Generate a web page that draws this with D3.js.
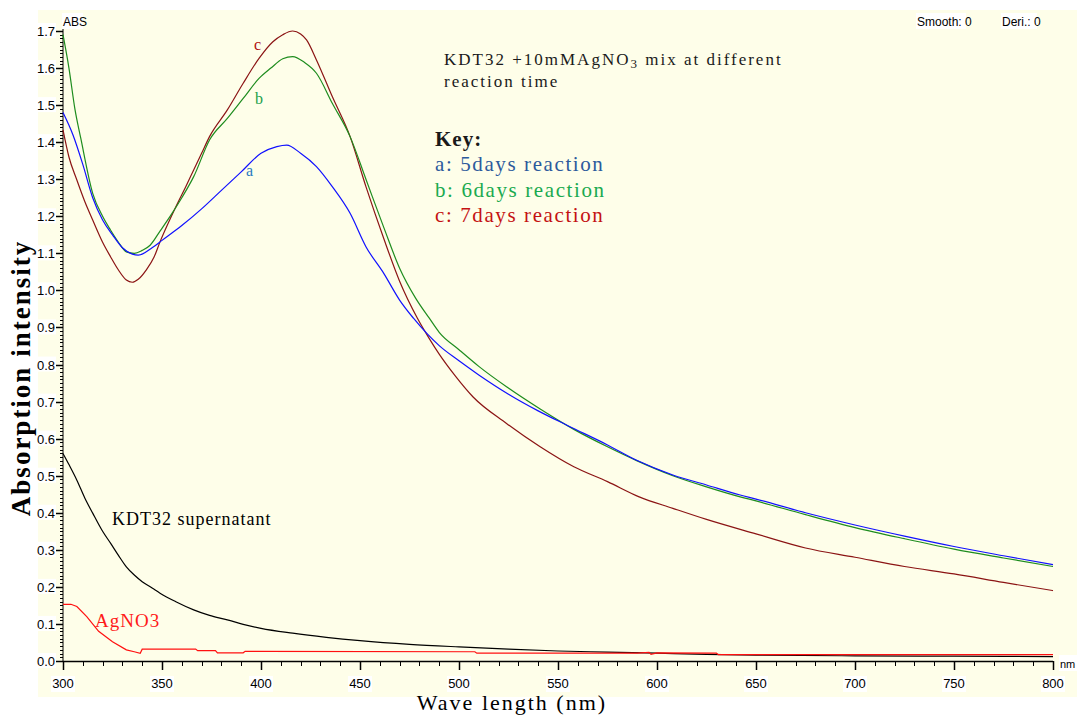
<!DOCTYPE html>
<html>
<head>
<meta charset="utf-8">
<script src="https://cdn.jsdelivr.net/npm/d3@7"></script>
<style>
	body { margin: 0; background: #ffffff; }
	svg { display: block; }
	.tick-label { font-family: "Liberation Sans Narrow", "Liberation Sans", Arial, sans-serif; font-size: 13px; fill: #000; }
	.serif { font-family: "Liberation Serif", "Times New Roman", serif; }
</style>
</head>
<body>
<svg id="chart" width="1077" height="716"></svg>
<script>
// Wavelength (nm) / absorbance pairs
const waveA = [300, 305, 310, 315, 320, 325, 330, 335, 338, 345, 350, 360, 370, 380, 390, 400, 408, 413, 420, 428, 436, 445, 453, 462, 470, 477, 490, 500, 510, 525, 540, 555, 575, 590, 608, 625, 642, 650, 675, 700, 725, 750, 775, 800];
const absA = [1.48, 1.42, 1.34, 1.25, 1.19, 1.15, 1.115, 1.098, 1.095, 1.115, 1.135, 1.175, 1.22, 1.27, 1.32, 1.37, 1.388, 1.392, 1.37, 1.334, 1.28, 1.208, 1.118, 1.046, 0.974, 0.925, 0.851, 0.81, 0.772, 0.72, 0.675, 0.635, 0.583, 0.541, 0.502, 0.475, 0.448, 0.437, 0.40, 0.367, 0.337, 0.309, 0.284, 0.26];

const waveB = [300, 303, 306, 309, 315, 320, 324, 328, 332, 336, 340, 344, 349, 354, 360, 366, 374, 383, 391, 399, 405, 411, 416, 422, 428, 436, 445, 453, 462, 470, 478, 485, 490, 500, 510, 524, 541, 558, 575, 590, 608, 625, 642, 650, 675, 700, 725, 750, 775, 800];
const absB = [1.69, 1.60, 1.49, 1.41, 1.262, 1.20, 1.163, 1.13, 1.104, 1.10, 1.108, 1.122, 1.16, 1.199, 1.25, 1.307, 1.406, 1.464, 1.518, 1.572, 1.60, 1.625, 1.631, 1.615, 1.586, 1.505, 1.415, 1.30, 1.17, 1.06, 0.98, 0.925, 0.887, 0.84, 0.795, 0.74, 0.68, 0.625, 0.578, 0.54, 0.50, 0.47, 0.443, 0.432, 0.395, 0.36, 0.33, 0.302, 0.278, 0.255];

const waveC = [300, 303, 307, 311, 315, 320, 324, 328, 332, 335, 338, 342, 346, 349, 353, 357, 362, 366, 370, 374, 383, 391, 399, 406, 411, 416, 420, 423, 428, 436, 445, 453, 462, 470, 479, 485, 490, 498, 507, 524, 541, 558, 575, 591, 608, 625, 650, 675, 700, 725, 750, 775, 800];
const absC = [1.433, 1.36, 1.298, 1.24, 1.19, 1.13, 1.091, 1.055, 1.028, 1.022, 1.03, 1.055, 1.09, 1.131, 1.18, 1.226, 1.28, 1.325, 1.37, 1.415, 1.487, 1.559, 1.626, 1.671, 1.69, 1.70, 1.692, 1.676, 1.622, 1.523, 1.415, 1.28, 1.14, 1.025, 0.925, 0.87, 0.828, 0.77, 0.713, 0.641, 0.578, 0.524, 0.484, 0.443, 0.412, 0.382, 0.343, 0.305, 0.28, 0.255, 0.235, 0.212, 0.19];

const waveSup = [300, 303, 307, 311, 315, 320, 324, 328, 332, 336, 340, 345, 349, 357, 366, 374, 383, 391, 400, 416, 433, 450, 475, 500, 525, 550, 575, 600, 625, 650, 700, 750, 800];
const absSup = [0.56, 0.53, 0.488, 0.44, 0.399, 0.35, 0.318, 0.285, 0.254, 0.232, 0.214, 0.197, 0.183, 0.16, 0.138, 0.123, 0.111, 0.099, 0.088, 0.075, 0.064, 0.055, 0.045, 0.038, 0.032, 0.027, 0.024, 0.021, 0.018, 0.016, 0.014, 0.013, 0.012];

const waveAg = [300, 304, 307, 312, 318, 325, 332, 336, 339, 340, 367, 368, 377, 378, 391, 392, 508, 509, 590, 596, 597, 600, 630, 631, 800];
const absAg = [0.153, 0.153, 0.147, 0.12, 0.08, 0.052, 0.03, 0.025, 0.021, 0.032, 0.032, 0.028, 0.028, 0.022, 0.022, 0.026, 0.025, 0.021, 0.021, 0.023, 0.018, 0.022, 0.021, 0.017, 0.017];

// Axis ticks
const xTicks = [300, 350, 400, 450, 500, 550, 600, 650, 700, 750, 800];
const yTicks = [0.0, 0.1, 0.2, 0.3, 0.4, 0.5, 0.6, 0.7, 0.8, 0.9, 1.0, 1.1, 1.2, 1.3, 1.4, 1.5, 1.6, 1.7];

const keyLines = ["a: 5days reaction", "b: 6days reaction", "c: 7days reaction"];

const svg = d3.select("#chart");

const x = d3.scaleLinear().domain([300, 800]).range([63, 1053]);
const y = d3.scaleLinear().domain([0, 1.7]).range([661, 31]);

// Pale yellow plot paper
svg.append("rect")
	.attr("x", 38).attr("y", 10)
	.attr("width", 1039).attr("height", 687)
	.attr("fill", "#fefee9");

// Y axis: line, minor and major ticks
const yAxis = svg.append("g");
yAxis.append("line")
	.attr("x1", x(300)).attr("x2", x(300))
	.attr("y1", y(0)).attr("y2", y(1.72))
	.attr("stroke", "#000");

yAxis.selectAll(".ytick-minor")
	.data(d3.range(0, 171).map(i => i / 100))
	.enter()
	.append("line")
	.attr("x1", x(300) - 3).attr("x2", x(300))
	.attr("y1", d => Math.round(y(d)) + 0.5).attr("y2", d => Math.round(y(d)) + 0.5)
	.attr("stroke", "#000");

yAxis.selectAll(".ytick-major")
	.data(yTicks)
	.enter()
	.append("line")
	.attr("x1", x(300) - 7).attr("x2", x(300))
	.attr("y1", d => Math.round(y(d)) + 0.5).attr("y2", d => Math.round(y(d)) + 0.5)
	.attr("stroke", "#000")
	.attr("stroke-width", 1.5);

const yLabels = yAxis.selectAll(".ylab")
	.data(yTicks)
	.enter()
	.append("g");
yLabels.append("rect")
	.attr("x", 38).attr("y", d => y(d) - 8)
	.attr("width", 18).attr("height", 15)
	.attr("fill", "#fff");
yLabels.append("text")
	.attr("class", "tick-label")
	.attr("x", 55).attr("y", d => y(d) + 5)
	.attr("text-anchor", "end")
	.text(d => d.toFixed(1));

// X axis
const xAxis = svg.append("g");
xAxis.append("line")
	.attr("x1", x(300)).attr("x2", x(800))
	.attr("y1", y(0) + 0.5).attr("y2", y(0) + 0.5)
	.attr("stroke", "#000")
	.attr("stroke-width", 1.5);

xAxis.selectAll(".xtick-minor")
	.data(d3.range(300, 801, 10))
	.enter()
	.append("line")
	.attr("x1", d => Math.round(x(d)) + 0.5).attr("x2", d => Math.round(x(d)) + 0.5)
	.attr("y1", y(0)).attr("y2", y(0) + 5)
	.attr("stroke", "#000");

xAxis.selectAll(".xtick-major")
	.data(xTicks)
	.enter()
	.append("line")
	.attr("x1", d => Math.round(x(d)) + 0.5).attr("x2", d => Math.round(x(d)) + 0.5)
	.attr("y1", y(0)).attr("y2", y(0) + 9)
	.attr("stroke", "#000")
	.attr("stroke-width", 1.5);

const xLabels = xAxis.selectAll(".xlab")
	.data(xTicks)
	.enter()
	.append("g");
xLabels.append("rect")
	.attr("x", d => x(d) - 12).attr("y", 676)
	.attr("width", 24).attr("height", 16)
	.attr("fill", "#fff");
xLabels.append("text")
	.attr("class", "tick-label")
	.attr("x", d => x(d)).attr("y", 688)
	.attr("text-anchor", "middle")
	.text(d => d);

// Instrument header text
svg.append("rect").attr("x", 62).attr("y", 13).attr("width", 21).attr("height", 16).attr("fill", "#fff");
svg.append("text").attr("class", "tick-label").attr("x", 63).attr("y", 26).style("font-size", "12px").text("ABS");
svg.append("rect").attr("x", 916).attr("y", 13).attr("width", 50).attr("height", 16).attr("fill", "#fff");
svg.append("text").attr("class", "tick-label").attr("x", 917).attr("y", 26).style("font-size", "12px").text("Smooth: 0");
svg.append("rect").attr("x", 1001).attr("y", 13).attr("width", 36).attr("height", 16).attr("fill", "#fff");
svg.append("text").attr("class", "tick-label").attr("x", 1002).attr("y", 26).style("font-size", "12px").text("Deri.: 0");
svg.append("rect").attr("x", 1059).attr("y", 655).attr("width", 18).attr("height", 16).attr("fill", "#fff");
svg.append("text").attr("class", "tick-label").attr("x", 1060).attr("y", 668).style("font-size", "11px").text("nm");

// Spectra
const line = d3.line()
	.x(d => x(d[0]))
	.y(d => y(d[1]));

const series = [
	{ wave: waveSup, abs: absSup, color: "#000000", curve: d3.curveMonotoneX },
	{ wave: waveAg, abs: absAg, color: "#ff1010", curve: d3.curveLinear },
	{ wave: waveC, abs: absC, color: "#8b1414", curve: d3.curveMonotoneX },
	{ wave: waveB, abs: absB, color: "#1e8c1e", curve: d3.curveMonotoneX },
	{ wave: waveA, abs: absA, color: "#1010ff", curve: d3.curveMonotoneX }
];

svg.append("g")
	.selectAll("path")
	.data(series)
	.enter()
	.append("path")
	.attr("d", s => line.curve(s.curve)(d3.zip(s.wave, s.abs)))
	.attr("fill", "none")
	.attr("stroke", s => s.color)
	.attr("stroke-width", 1.2);

// Curve annotations
const notes = svg.append("g").attr("class", "serif");
notes.append("text").attr("x", 254).attr("y", 50).attr("fill", "#b01010").style("font-size", "16px").text("c");
notes.append("text").attr("x", 255).attr("y", 104).attr("fill", "#1aa04a").style("font-size", "16px").text("b");
notes.append("text").attr("x", 246).attr("y", 176).attr("fill", "#2a7ac0").style("font-size", "16px").text("a");
notes.append("text").attr("x", 112).attr("y", 525).attr("fill", "#000").style("font-size", "18px").style("letter-spacing", "1px").text("KDT32 supernatant");
notes.append("text").attr("x", 95).attr("y", 627).attr("fill", "#ff1a1a").style("font-size", "19px").style("letter-spacing", "1px").text("AgNO3");

// Title
const title = notes.append("text").attr("x", 444).attr("y", 65).attr("fill", "#1a1a1a").style("font-size", "17px").style("letter-spacing", "2px");
title.append("tspan").text("KDT32 +10mMAgNO");
title.append("tspan").attr("dy", 3).style("font-size", "13px").text("3");
title.append("tspan").attr("dy", -3).text(" mix at different");
notes.append("text").attr("x", 444).attr("y", 87).attr("fill", "#1a1a1a").style("font-size", "17px").style("letter-spacing", "2px").text("reaction time");

// Key
notes.append("text").attr("x", 435).attr("y", 146).attr("fill", "#1a1a1a").style("font-size", "21px").style("font-weight", "bold").style("letter-spacing", "1px").text("Key:");
notes.selectAll(".key")
	.data(keyLines)
	.enter()
	.append("text")
	.attr("x", 435)
	.attr("y", (d, i) => 171 + i * 25.5)
	.attr("fill", (d, i) => ["#2c5a9c", "#1aaa50", "#c41212"][i])
	.style("font-size", "21px")
	.style("letter-spacing", "1.6px")
	.text(d => d);

// Axis titles
svg.append("text")
	.attr("class", "serif")
	.attr("transform", "translate(30,378) rotate(-90)")
	.attr("text-anchor", "middle")
	.style("font-size", "27px")
	.style("font-weight", "bold")
	.style("letter-spacing", "2px")
	.text("Absorption intensity");

svg.append("text")
	.attr("class", "serif")
	.attr("x", 512).attr("y", 710)
	.attr("text-anchor", "middle")
	.style("font-size", "22px")
	.style("letter-spacing", "2px")
	.text("Wave length (nm)");
</script>
</body>
</html>
